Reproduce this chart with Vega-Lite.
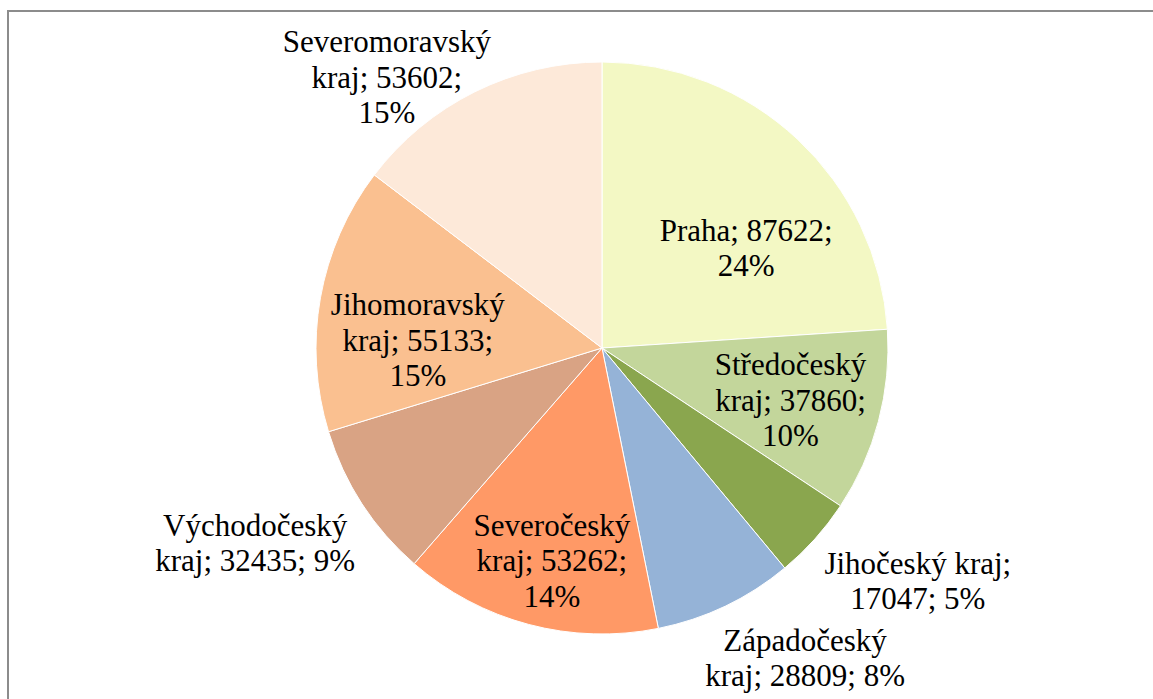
{
  "$schema": "https://vega.github.io/schema/vega-lite/v6.json",
  "autosize": "none",
  "padding": {"left": 8, "top": 11, "right": 0, "bottom": 0},
  "width": 1190,
  "height": 720,
  "background": "white",
  "config": {
    "view": {"stroke": null},
    "text": {"font": "Liberation Serif", "fontSize": 31, "lineHeight": 35.5, "color": "black", "lineBreak": "\n", "align": "center", "baseline": "middle"}
  },
  "data": {
    "values": [
      {"poradi": 1, "kraj": "Praha", "pocet": 87622, "popisek": "Praha; 87622;\n24%"},
      {"poradi": 2, "kraj": "Středočeský kraj", "pocet": 37860, "popisek": "Středočeský\nkraj; 37860;\n10%"},
      {"poradi": 3, "kraj": "Jihočeský kraj", "pocet": 17047, "popisek": "Jihočeský kraj;\n17047; 5%"},
      {"poradi": 4, "kraj": "Západočeský kraj", "pocet": 28809, "popisek": "Západočeský\nkraj; 28809; 8%"},
      {"poradi": 5, "kraj": "Severočeský kraj", "pocet": 53262, "popisek": "Severočeský\nkraj; 53262;\n14%"},
      {"poradi": 6, "kraj": "Východočeský kraj", "pocet": 32435, "popisek": "Východočeský\nkraj; 32435; 9%"},
      {"poradi": 7, "kraj": "Jihomoravský kraj", "pocet": 55133, "popisek": "Jihomoravský\nkraj; 55133;\n15%"},
      {"poradi": 8, "kraj": "Severomoravský kraj", "pocet": 53602, "popisek": "Severomoravský\nkraj; 53602;\n15%"}
    ]
  },
  "layer": [
    {
      "data": {"values": [{"ramecek": 1}]},
      "mark": {"type": "rect", "x": 0, "y": 0, "x2": {"expr": "width"}, "y2": {"expr": "height"}, "fill": null, "stroke": "#8c8c8c", "strokeWidth": 2},
      "encoding": {}
    },
    {
      "encoding": {
        "theta": {"field": "pocet", "type": "quantitative", "stack": true},
        "order": {"field": "poradi", "type": "quantitative"},
        "detail": {"field": "kraj", "type": "nominal"}
      },
      "layer": [
        {
          "mark": {"type": "arc", "radius": 286, "x": 594, "y": 337, "stroke": "white", "strokeWidth": 1},
          "encoding": {
            "color": {
              "field": "kraj", "type": "nominal", "legend": null,
              "scale": {
                "domain": ["Praha", "Středočeský kraj", "Jihočeský kraj", "Západočeský kraj", "Severočeský kraj", "Východočeský kraj", "Jihomoravský kraj", "Severomoravský kraj"],
                "range": ["#F3F8C4", "#C3D69B", "#8AA64E", "#95B3D7", "#FF9966", "#D9A384", "#FAC090", "#FDE9D9"]
              }
            }
          }
        },
        {
          "mark": {"type": "text", "radius": 170, "dx": 28, "dy": 8, "x": 594, "y": 337},
          "encoding": {"text": {"condition": {"test": "datum.kraj === 'Praha'", "field": "popisek"}, "value": ""}}
        },
        {
          "mark": {"type": "text", "radius": 195, "dx": 0, "dy": -32, "x": 594, "y": 337},
          "encoding": {"text": {"condition": {"test": "datum.kraj === 'Středočeský kraj'", "field": "popisek"}, "value": ""}}
        },
        {
          "mark": {"type": "text", "radius": 392, "dx": 24, "dy": -45, "x": 594, "y": 337},
          "encoding": {"text": {"condition": {"test": "datum.kraj === 'Jihočeský kraj'", "field": "popisek"}, "value": ""}}
        },
        {
          "mark": {"type": "text", "radius": 369, "dx": 44, "dy": -39, "x": 594, "y": 337},
          "encoding": {"text": {"condition": {"test": "datum.kraj === 'Západočeský kraj'", "field": "popisek"}, "value": ""}}
        },
        {
          "mark": {"type": "text", "radius": 219, "dx": 6, "dy": -33, "x": 594, "y": 337},
          "encoding": {"text": {"condition": {"test": "datum.kraj === 'Severočeský kraj'", "field": "popisek"}, "value": ""}}
        },
        {
          "mark": {"type": "text", "radius": 398, "dx": -13, "dy": -38, "x": 594, "y": 337},
          "encoding": {"text": {"condition": {"test": "datum.kraj === 'Východočeský kraj'", "field": "popisek"}, "value": ""}}
        },
        {
          "mark": {"type": "text", "radius": 182, "dx": -5, "dy": -10, "x": 594, "y": 337},
          "encoding": {"text": {"condition": {"test": "datum.kraj === 'Jihomoravský kraj'", "field": "popisek"}, "value": ""}}
        },
        {
          "mark": {"type": "text", "radius": 338, "dx": -65, "dy": -2, "x": 594, "y": 337},
          "encoding": {"text": {"condition": {"test": "datum.kraj === 'Severomoravský kraj'", "field": "popisek"}, "value": ""}}
        }
      ]
    }
  ]
}
